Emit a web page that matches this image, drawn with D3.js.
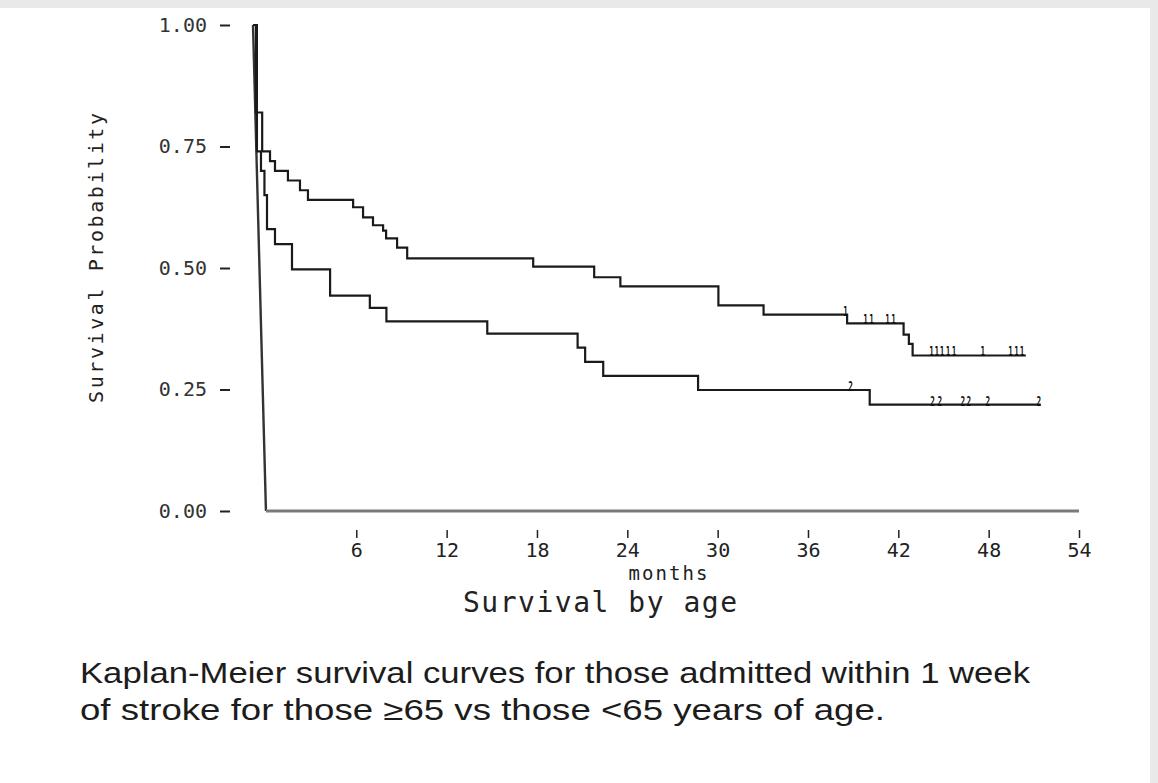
<!DOCTYPE html>
<html>
<head>
<meta charset="utf-8">
<script src="https://cdn.jsdelivr.net/npm/d3@7"></script>
<style>
  html, body { margin: 0; padding: 0; background: #fff; }
  svg { display: block; }
  .mono { font-family: "DejaVu Sans Mono", "Liberation Mono", monospace; }
</style>
</head>
<body>
<svg id="chart" width="1158" height="783"></svg>
<script>
// Kaplan-Meier estimates, survival by age group (time in months)
const tStart = -0.86;                 // left edge of the plotted time range
const tMax = 54;

// Group 1 (upper curve): step times and survival after each step
const upperTimes = [-0.86, -0.66, -0.25, 0.27, 0.6, 1.46, 2.26, 2.79, 5.79, 6.45, 7.11, 7.78, 7.98, 8.71, 9.38, 17.75, 21.8, 23.54, 30.05, 33.05, 38.6, 42.35, 42.7, 42.95];
const upperSurv  = [1.00, 0.82, 0.74, 0.72, 0.70, 0.68, 0.66, 0.64, 0.625, 0.604, 0.588, 0.577, 0.561, 0.542, 0.52, 0.503, 0.481, 0.462, 0.423, 0.404, 0.386, 0.363, 0.344, 0.32];
const upperEnd = 50.47;
const upperCensor = [38.5, 39.83, 40.23, 41.29, 41.69, 44.2, 44.55, 44.9, 45.3, 45.7, 47.61, 49.45, 49.85, 50.22];

// Group 2 (lower curve)
const lowerTimes = [-0.86, -0.6, -0.33, -0.1, 0.07, 0.6, 1.73, 4.26, 6.9, 8.0, 14.7, 20.7, 21.2, 22.4, 28.7, 40.1];
const lowerSurv  = [1.00, 0.74, 0.70, 0.65, 0.58, 0.549, 0.497, 0.443, 0.418, 0.39, 0.365, 0.336, 0.307, 0.278, 0.249, 0.219];
const lowerEnd = 51.46;
const lowerCensor = [38.83, 44.28, 44.75, 46.28, 46.68, 47.94, 51.33];

const xTicks = [6, 12, 18, 24, 30, 36, 42, 48, 54];
const yTicks = [0, 0.25, 0.5, 0.75, 1];

const svg = d3.select("#chart");

// page frame
svg.append("rect").attr("width", 1158).attr("height", 783).attr("fill", "#e9e9e9");
svg.append("rect").attr("x", 0).attr("y", 8).attr("width", 1150).attr("height", 775).attr("fill", "#fff");

const x = d3.scaleLinear().domain([tStart, tMax]).range([253, 1079]);
const y = d3.scaleLinear().domain([0, 1]).range([511, 25]);

// y axis: ticks and labels only
const yAxis = svg.append("g")
  .attr("class", "mono")
  .attr("transform", "translate(230,0)")
  .call(d3.axisLeft(y).tickValues(yTicks).tickFormat(d3.format(".2f")).tickSize(10).tickPadding(13));
yAxis.select(".domain").remove();
yAxis.selectAll(".tick line").attr("stroke", "#222").attr("stroke-width", 2);
yAxis.selectAll(".tick text").attr("font-size", 20).attr("fill", "#333")
  .attr("font-family", "DejaVu Sans Mono, monospace");

// x axis: ticks and labels below the baseline
const xAxis = svg.append("g")
  .attr("transform", "translate(0,530)")
  .call(d3.axisBottom(x).tickValues(xTicks).tickFormat(d3.format("d")).tickSize(8).tickPadding(5));
xAxis.select(".domain").remove();
xAxis.selectAll(".tick line").attr("stroke", "#222").attr("stroke-width", 1.5);
xAxis.selectAll(".tick text").attr("font-size", 20).attr("fill", "#222")
  .attr("font-family", "DejaVu Sans Mono, monospace");

// axis frame: slanted left edge and baseline at zero
const lineLin = d3.line().x(d => x(d[0])).y(d => y(d[1]));
svg.append("path")
  .attr("d", lineLin([[tStart, 1], [0, 0]]))
  .attr("fill", "none").attr("stroke", "#333").attr("stroke-width", 2.4);
svg.append("path")
  .attr("d", lineLin([[0, 0], [tMax, 0]]))
  .attr("fill", "none").attr("stroke", "#7a7a7a").attr("stroke-width", 3);

// survival step curves
const stepLine = d3.line().x(d => x(d[0])).y(d => y(d[1])).curve(d3.curveStepAfter);
function curvePoints(times, surv, end) {
  const pts = times.map((t, i) => [t, surv[i]]);
  pts.push([end, surv[surv.length - 1]]);
  return pts;
}
function survAt(times, surv, t) {
  let s = surv[0];
  for (let i = 0; i < times.length; i++) if (times[i] <= t) s = surv[i];
  return s;
}

const groups = [
  { times: upperTimes, surv: upperSurv, end: upperEnd, censor: upperCensor, mark: "1" },
  { times: lowerTimes, surv: lowerSurv, end: lowerEnd, censor: lowerCensor, mark: "2" }
];

groups.forEach(g => {
  svg.append("path")
    .attr("d", stepLine(curvePoints(g.times, g.surv, g.end)))
    .attr("fill", "none").attr("stroke", "#1a1a1a").attr("stroke-width", 2.2);
  // censored observations, marked with the group number (narrow glyphs)
  svg.append("g").selectAll("text")
    .data(g.censor)
    .join("text")
    .attr("transform", d => `translate(${x(d)},${y(survAt(g.times, g.surv, d)) + 1}) scale(0.55,1)`)
    .attr("text-anchor", "middle")
    .attr("font-family", "DejaVu Sans Mono, monospace")
    .attr("font-weight", "bold")
    .attr("font-size", 14)
    .attr("fill", "#111")
    .text(g.mark);
});

// axis titles
svg.append("text")
  .attr("transform", "translate(103,258) rotate(-90)")
  .attr("text-anchor", "middle")
  .attr("font-family", "DejaVu Sans Mono, monospace")
  .attr("font-size", 20).attr("fill", "#222")
  .attr("textLength", 290).attr("lengthAdjust", "spacing")
  .text("Survival Probability");

svg.append("text")
  .attr("x", 668).attr("y", 580)
  .attr("text-anchor", "middle")
  .attr("font-family", "DejaVu Sans Mono, monospace")
  .attr("font-size", 19).attr("fill", "#222")
  .attr("textLength", 79).attr("lengthAdjust", "spacing")
  .text("months");

svg.append("text")
  .attr("x", 600).attr("y", 612)
  .attr("text-anchor", "middle")
  .attr("font-family", "DejaVu Sans Mono, monospace")
  .attr("font-size", 28).attr("fill", "#222")
  .attr("textLength", 274).attr("lengthAdjust", "spacing")
  .text("Survival by age");

// figure caption
const caption = [
  "Kaplan-Meier survival curves for those admitted within 1 week",
  "of stroke for those \u226565 vs those <65 years of age."
];
const captionWidths = [950, 805];
svg.append("g").selectAll("text")
  .data(caption)
  .join("text")
  .attr("x", 80)
  .attr("y", (d, i) => 683 + i * 37)
  .attr("font-family", "Liberation Sans, Arial, Helvetica, sans-serif")
  .attr("font-size", 29)
  .attr("fill", "#1c1c1c")
  .attr("textLength", (d, i) => captionWidths[i])
  .attr("lengthAdjust", "spacingAndGlyphs")
  .text(d => d);
</script>
</body>
</html>
